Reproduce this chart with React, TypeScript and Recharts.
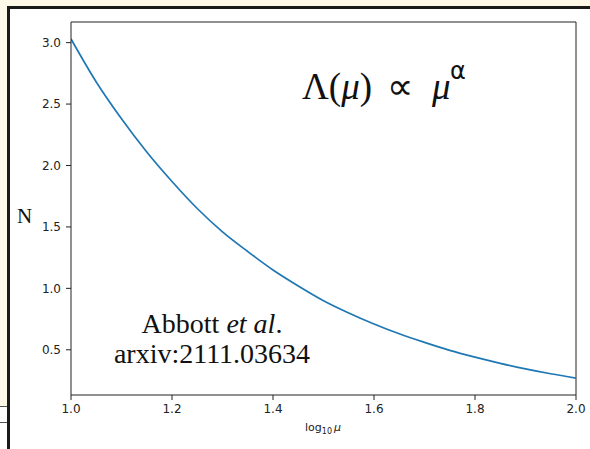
import { LineChart, Line, XAxis, YAxis, ReferenceLine } from "recharts";

// log10(mu) sample positions and N
const logMu = [
    1.0, 1.05, 1.1, 1.15, 1.2, 1.25, 1.3, 1.35, 1.4, 1.45, 1.5, 1.55, 1.6, 1.65, 1.7, 1.75, 1.8,
    1.85, 1.9, 1.95, 2.0,
];
const nValues = [
    3.03, 2.68, 2.38, 2.11, 1.87, 1.65, 1.46, 1.3, 1.15, 1.02, 0.9, 0.8, 0.71, 0.63, 0.56, 0.495,
    0.44, 0.39, 0.345, 0.305, 0.27,
];
const xTicks = [1.0, 1.2, 1.4, 1.6, 1.8, 2.0];
const yTicks = [0.5, 1.0, 1.5, 2.0, 2.5, 3.0];

const data = logMu.map((x, i) => ({ x, n: nValues[i] }));

// matplotlib-style 5% margin around the data
const nMin = Math.min(...nValues);
const nMax = Math.max(...nValues);
const pad = (nMax - nMin) * 0.05;
const yDomain = [nMin - pad, nMax + pad];

const SPINE = "#222";
const tickStyle = { fontSize: 12, fill: "#222", fontFamily: "DejaVu Sans" };

export default function App() {
    return (
        <div style={{ position: "absolute", left: 0, top: 0, width: 590, height: 449, overflow: "hidden", background: "#fdf8e7" }}>
            {/* slide frame */}
            <div
                style={{
                    position: "absolute",
                    left: 7,
                    top: 6,
                    width: 620,
                    height: 480,
                    background: "#fff",
                    borderTop: "3px solid #1a1a1a",
                    borderLeft: "3px solid #1a1a1a",
                }}
            />
            {/* table cell fragment bottom-left */}
            <div style={{ position: "absolute", left: 0, top: 406, width: 7, height: 43, background: "#fff", borderTop: "1px solid #555" }} />
            <div style={{ position: "absolute", left: 0, top: 422, width: 7, height: 1, background: "#555" }} />

            <div style={{ position: "absolute", left: 0, top: 0 }}>
                <LineChart width={590} height={449} data={data} margin={{ top: 22, right: 14, left: 0, bottom: 0 }}>
                    <XAxis
                        dataKey="x"
                        type="number"
                        domain={[1, 2]}
                        ticks={xTicks}
                        interval={0}
                        allowDataOverflow
                        height={54}
                        tick={tickStyle}
                        tickFormatter={(v: number) => v.toFixed(1)}
                        tickSize={5}
                        tickMargin={4}
                        stroke={SPINE}
                        axisLine={{ stroke: SPINE }}
                        tickLine={{ stroke: SPINE }}
                    />
                    <YAxis
                        type="number"
                        domain={yDomain}
                        ticks={yTicks}
                        interval={0}
                        allowDataOverflow
                        width={71}
                        tick={tickStyle}
                        tickFormatter={(v: number) => v.toFixed(1)}
                        tickSize={5}
                        tickMargin={5}
                        stroke={SPINE}
                        axisLine={{ stroke: SPINE }}
                        tickLine={{ stroke: SPINE }}
                    />
                    <ReferenceLine x={2} stroke={SPINE} ifOverflow="extendDomain" />
                    <ReferenceLine y={yDomain[1]} stroke={SPINE} ifOverflow="extendDomain" />
                    <Line
                        type="monotone"
                        dataKey="n"
                        stroke="#1f77b4"
                        strokeWidth={1.7}
                        dot={false}
                        isAnimationActive={false}
                    />
                </LineChart>
            </div>

            <svg width={590} height={449} style={{ position: "absolute", left: 0, top: 0, pointerEvents: "none" }}>
                <text x={17} y={223} fontFamily="Liberation Serif" fontSize={21} fill="#111">
                    N
                </text>
                <text x={323} y={431} textAnchor="middle" fontFamily="DejaVu Sans" fontSize={11} fill="#222">
                    log
                    <tspan fontSize={8} dy={3}>10</tspan>
                    <tspan dy={-3} dx={2} fontStyle="italic">μ</tspan>
                </text>

                <text x={302} y={99} fontFamily="Liberation Serif" fontSize={37} fill="#111">
                    Λ(<tspan fontStyle="italic">μ</tspan>)
                </text>
                <text x={387} y={99} fontFamily="Liberation Serif" fontSize={37} fill="#111">
                    ∝
                </text>
                <text x={432} y={99} fontFamily="Liberation Serif" fontSize={37} fontStyle="italic" fill="#111">
                    μ
                </text>
                <text x={450} y={79} fontFamily="DejaVu Sans" fontSize={24} fill="#111">
                    α
                </text>

                <text x={212} y={333} textAnchor="middle" fontFamily="Liberation Serif" fontSize={28} fill="#111">
                    Abbott <tspan fontStyle="italic">et al</tspan>.
                </text>
                <text x={212} y={363} textAnchor="middle" fontFamily="Liberation Serif" fontSize={28} fill="#111">
                    arxiv:2111.03634
                </text>
            </svg>
        </div>
    );
}
